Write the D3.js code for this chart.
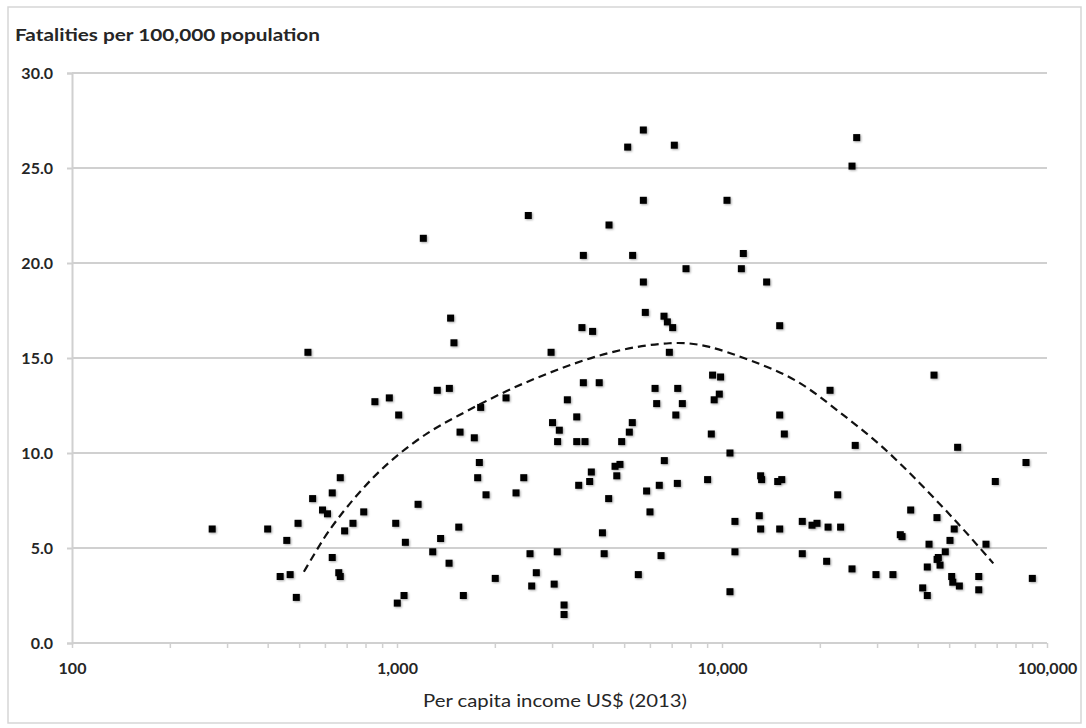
<!DOCTYPE html>
<html>
<head>
<meta charset="utf-8">
<script src="https://cdn.jsdelivr.net/npm/d3@7/dist/d3.min.js"></script>
<style>
  html, body { margin: 0; padding: 0; background: #fff; }
  svg { display: block; font-family: Lato, "Open Sans", sans-serif; }
</style>
</head>
<body>
<svg id="chart" width="1086" height="728"></svg>
<script>
// ---- Data ----
const income = [
  532, 855, 947, 1012, 669, 550, 632, 590, 611, 790,
  732, 690, 496, 400, 270, 458, 991, 1161, 1061, 632,
  437, 469, 662, 669, 490, 1051, 1002, 1205,
  5126, 2535, 4491, 3744, 5309, 1462, 1497, 3707, 3998, 2979,
  5727, 7133, 5728, 10360, 11630, 7749, 11470, 5728, 13720, 5808,
  6630, 6790, 7050, 15050, 6886,
  25970, 25120,
  1330, 1449, 1809, 2165, 1563, 1729, 3744, 4190, 3343, 3010,
  3573, 3158, 3120, 3573, 3788, 5296, 5186, 4912, 1792, 1771,
  1879, 2455, 2324, 3962, 3916, 3623, 4687, 4853, 4745, 4480,
  1549, 1362, 1288, 1446, 1600, 2006, 2566, 2683, 2597, 3112,
  3045, 3266, 3266, 4286, 4339, 5527,
  9355, 9900, 6223, 7308, 6295, 7550, 7210, 9460, 9810, 21500,
  15050, 15550, 9270, 10580, 6645, 5862, 6412, 7287, 9030, 13150,
  13240, 14840, 15270, 22700, 6003, 10960, 13020, 13150, 15050, 17660,
  18920, 19600, 21200, 23170, 6493, 10960, 17660, 20990, 10580,
  44910, 25700, 53090, 86170, 69330, 38070, 45860, 35370, 35800, 51820,
  50290, 43350, 48640, 46300, 45900, 64900, 42820, 46870, 25120, 29770,
  33570, 50900, 51290, 53740, 61660, 61660, 90120, 41450, 42820
];
const fatalities = [
  15.3, 12.7, 12.9, 12.0, 8.7, 7.6, 7.9, 7.0, 6.8, 6.9,
  6.3, 5.9, 6.3, 6.0, 6.0, 5.4, 6.3, 7.3, 5.3, 4.5,
  3.5, 3.6, 3.7, 3.5, 2.4, 2.5, 2.1, 21.3,
  26.1, 22.5, 22.0, 20.4, 20.4, 17.1, 15.8, 16.6, 16.4, 15.3,
  27.0, 26.2, 23.3, 23.3, 20.5, 19.7, 19.7, 19.0, 19.0, 17.4,
  17.2, 16.9, 16.6, 16.7, 15.3,
  26.6, 25.1,
  13.3, 13.4, 12.4, 12.9, 11.1, 10.8, 13.7, 13.7, 12.8, 11.6,
  11.9, 11.2, 10.6, 10.6, 10.6, 11.6, 11.1, 10.6, 9.5, 8.7,
  7.8, 8.7, 7.9, 9.0, 8.5, 8.3, 9.3, 9.4, 8.8, 7.6,
  6.1, 5.5, 4.8, 4.2, 2.5, 3.4, 4.7, 3.7, 3.0, 4.8,
  3.1, 2.0, 1.5, 5.8, 4.7, 3.6,
  14.1, 14.0, 13.4, 13.4, 12.6, 12.6, 12.0, 12.8, 13.1, 13.3,
  12.0, 11.0, 11.0, 10.0, 9.6, 8.0, 8.3, 8.4, 8.6, 8.8,
  8.6, 8.5, 8.6, 7.8, 6.9, 6.4, 6.7, 6.0, 6.0, 6.4,
  6.2, 6.3, 6.1, 6.1, 4.6, 4.8, 4.7, 4.3, 2.7,
  14.1, 10.4, 10.3, 9.5, 8.5, 7.0, 6.6, 5.7, 5.6, 6.0,
  5.4, 5.2, 4.8, 4.5, 4.4, 5.2, 4.0, 4.1, 3.9, 3.6,
  3.6, 3.5, 3.2, 3.0, 3.5, 2.8, 3.4, 2.9, 2.5
];
// Dashed trend line
const trendIncome = [517, 566, 608, 700, 836, 998, 1249, 1490, 2175, 3174, 4630, 7083, 9075, 12200, 16980, 22540, 30630, 40670, 53350, 68360];
const trendRate   = [3.75, 4.89, 5.77, 7.17, 8.67, 9.89, 11.12, 11.83, 13.32, 14.46, 15.42, 15.89, 15.68, 14.89, 13.93, 12.26, 10.51, 8.41, 6.30, 4.19];

const yTicks = [0, 5, 10, 15, 20, 25, 30];
const xMajorTicks = [100, 1000, 10000, 100000];
const yTitle = "Fatalities per 100,000 population";
const xTitle = "Per capita income US$ (2013)";

(function draw() {
  const svg = d3.select("#chart");
  const pL = 72, pR = 1047, pT = 73, pB = 643;
  const x = d3.scaleLog().domain([100, 100000]).range([pL, pR]);
  const y = d3.scaleLinear().domain([0, 30]).range([pB, pT]);
  const gridColor = "#d0d0d0";
  const textColor = "#262626";

  const defs = svg.append("defs");
  const f = defs.append("filter").attr("id", "shadow").attr("x", "-50%").attr("y", "-50%").attr("width", "200%").attr("height", "200%");
  f.append("feDropShadow").attr("dx", 1).attr("dy", 1).attr("stdDeviation", 0.9).attr("flood-color", "#000").attr("flood-opacity", 0.35);

  // chart border
  svg.append("rect").attr("x", 8).attr("y", 7).attr("width", 1073).attr("height", 716)
    .attr("fill", "none").attr("stroke", "#d6d6d6").attr("stroke-width", 1.5);

  // gridlines
  svg.append("g").selectAll("line").data(yTicks.filter(d => d > 0)).join("line")
    .attr("x1", pL).attr("x2", pR)
    .attr("y1", d => y(d)).attr("y2", d => y(d))
    .attr("stroke", gridColor).attr("stroke-width", 2);

  // y axis
  const yAxis = svg.append("g").attr("transform", `translate(${pL},0)`)
    .call(d3.axisLeft(y).tickValues(yTicks).tickSize(5).tickPadding(14).tickFormat(d3.format(".1f")));
  yAxis.select(".domain").attr("stroke", gridColor).attr("stroke-width", 2);
  yAxis.selectAll(".tick line").attr("stroke", gridColor).attr("stroke-width", 2);
  yAxis.selectAll(".tick text").attr("fill", textColor).attr("font-size", 16).attr("font-weight", 700)
    .attr("font-family", "Lato, sans-serif");

  // x axis
  const xAllTicks = x.ticks();
  const xAxis = svg.append("g").attr("transform", `translate(0,${pB})`)
    .call(d3.axisBottom(x).tickValues(xAllTicks).tickSize(5).tickPadding(15)
      .tickFormat(d => xMajorTicks.includes(d) ? d3.format(",")(d) : ""));
  xAxis.select(".domain").attr("stroke", gridColor).attr("stroke-width", 2).attr("d", `M${pL},0H${pR}`);
  xAxis.selectAll(".tick line").attr("stroke", gridColor).attr("stroke-width", 1.5);
  xAxis.selectAll(".tick text").attr("fill", textColor).attr("font-size", 16).attr("font-weight", 700)
    .attr("font-family", "Lato, sans-serif");

  // points
  svg.append("g").selectAll("rect").data(income.map((d, i) => [d, fatalities[i]])).join("rect")
    .attr("x", d => x(d[0]) - 3.5).attr("y", d => y(d[1]) - 3.5)
    .attr("width", 7).attr("height", 7).attr("fill", "#000").attr("filter", "url(#shadow)");

  // trend line
  const line = d3.line().x(d => x(d[0])).y(d => y(d[1])).curve(d3.curveBasis);
  svg.append("path").datum(trendIncome.map((d, i) => [d, trendRate[i]]))
    .attr("d", line).attr("fill", "none").attr("stroke", "#111").attr("stroke-width", 2.2)
    .attr("stroke-dasharray", "8,5");

  // titles
  svg.append("text").attr("x", 15).attr("y", 41).text(yTitle)
    .attr("font-size", 17).attr("font-weight", 700).attr("fill", textColor)
    .attr("textLength", 305).attr("lengthAdjust", "spacingAndGlyphs");
  svg.append("text").attr("x", 555).attr("y", 707).attr("text-anchor", "middle").text(xTitle)
    .attr("font-size", 18).attr("font-weight", 400).attr("fill", textColor)
    .attr("textLength", 264).attr("lengthAdjust", "spacingAndGlyphs");
})();
</script>
</body>
</html>
